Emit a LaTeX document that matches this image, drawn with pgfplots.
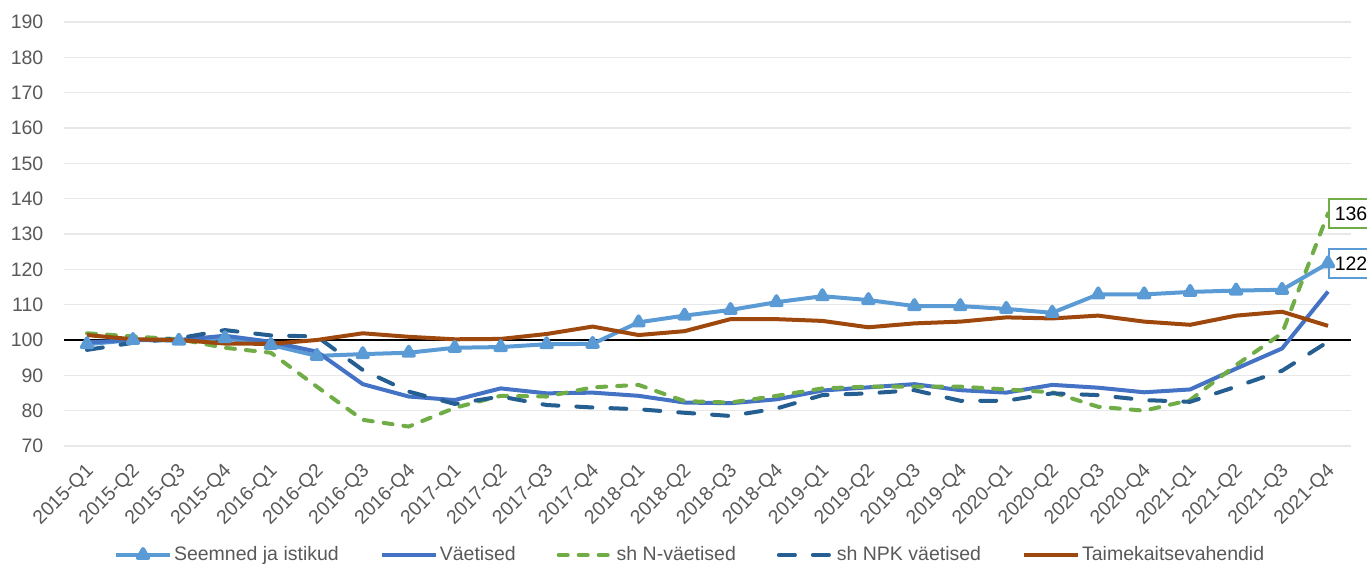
\documentclass[border=0pt]{standalone}
\usepackage{fontspec}
\setmainfont{Liberation Sans}
\usepackage{pgfplots}
\usepackage{pgfplotstable}
\pgfplotsset{compat=1.18}
\definecolor{cS}{HTML}{5B9BD5}
\definecolor{cV}{HTML}{4472C4}
\definecolor{cN}{HTML}{70AD47}
\definecolor{cNPK}{HTML}{255E91}
\definecolor{cT}{HTML}{9E480E}
\definecolor{gridgrey}{HTML}{E8E8E8}
\definecolor{textgrey}{HTML}{595959}

\pgfplotstableread{
i S V N NPK T
0 98.8 99.3 101.9 97.2 101.4
1 100 100 101 99.2 100.2
2 99.8 100 100.2 100.5 100
3 100.5 101.2 97.8 102.8 99
4 98.6 99.5 96.4 101.3 98.9
5 95.5 96.7 86.8 101 100
6 96 87.5 77.4 91.5 101.9
7 96.4 84 75.5 85.4 100.9
8 97.8 83 80.8 81.9 100.2
9 98 86.3 84.2 84 100.3
10 98.8 84.9 84 81.6 101.7
11 98.9 85.1 86.6 80.9 103.8
12 105 84.2 87.3 80.4 101.4
13 106.9 82.3 82.7 79.4 102.5
14 108.5 82.1 82.3 78.5 105.9
15 110.7 83.2 84.2 80.6 105.9
16 112.4 85.7 86.3 84.4 105.4
17 111.3 86.6 86.8 84.9 103.6
18 109.6 87.5 86.8 85.8 104.7
19 109.6 85.8 86.8 82.8 105.2
20 108.8 85.1 86 82.8 106.4
21 107.7 87.3 85.2 84.9 106.1
22 112.9 86.5 81.1 84.4 106.9
23 112.9 85.2 80 83 105.2
24 113.6 86 83 82.5 104.3
25 114 91.9 92.9 86.8 106.9
26 114.2 97.6 101.9 91.3 108
27 121.7 113.7 135.8 99.5 104
}\datatable

\begin{document}
\fontsize{19.5}{23}\selectfont
\begin{tikzpicture}
\begin{axis}[
  scale only axis, width=1287pt, height=424pt,
  xmin=-0.5, xmax=27.5, ymin=70, ymax=190,
  ytick={70,80,...,190},
  xtick={0,...,27},
  xticklabels={2015-Q1,2015-Q2,2015-Q3,2015-Q4,2016-Q1,2016-Q2,2016-Q3,2016-Q4,2017-Q1,2017-Q2,2017-Q3,2017-Q4,2018-Q1,2018-Q2,2018-Q3,2018-Q4,2019-Q1,2019-Q2,2019-Q3,2019-Q4,2020-Q1,2020-Q2,2020-Q3,2020-Q4,2021-Q1,2021-Q2,2021-Q3,2021-Q4},
  axis line style={draw=none},
  major tick length=0pt,
  ymajorgrids, grid style={color=gridgrey, line width=1.2pt},
  tick label style={font=\fontsize{19.5}{23}\selectfont, text=textgrey},
  xticklabel style={anchor=east, xshift=8.5pt, yshift=-17.5pt, rotate=45},
  yticklabel style={xshift=-14pt},
  /pgf/number format/assume math mode=true,
  clip=false,
  legend columns=5,
  legend style={at={(axis description cs:0.4865,0)}, anchor=center, yshift=-109pt,
    draw=none, font=\fontsize{19.5}{23}\selectfont, text=textgrey,
    /tikz/every even column/.append style={column sep=39pt}},
  legend cell align=left,
  legend image code/.code={\draw[mark repeat=2,mark phase=2,#1] plot coordinates {(0pt,0pt) (27pt,0pt) (54pt,0pt)};},
]
\addplot[black, line width=1.5pt, forget plot] coordinates {(-0.5,100) (27.5,100)};
\addplot[cS, line width=4pt, line join=round, mark=triangle*, mark size=6pt, mark options={solid}] table[x=i, y=S] {\datatable};
\addlegendentry{Seemned ja istikud}
\addplot[cV, line width=4pt, line join=round] table[x=i, y=V] {\datatable};
\addlegendentry{Väetised}
\addplot[cN, line width=4pt, line join=round, line cap=round, dash pattern=on 9pt off 11pt] table[x=i, y=N] {\datatable};
\addlegendentry{sh N-väetised}
\addplot[cNPK, line width=4pt, line join=round, line cap=round, dash pattern=on 16pt off 18pt] table[x=i, y=NPK] {\datatable};
\addlegendentry{sh NPK väetised}
\addplot[cT, line width=4pt, line join=round] table[x=i, y=T] {\datatable};
\addlegendentry{Taimekaitsevahendid}
\node[anchor=west, draw=cN, line width=1.5pt, fill=white, text=black, minimum height=29pt, inner xsep=6pt] at (axis cs:27,135.8) {136};
\node[anchor=west, draw=cS, line width=1.5pt, fill=white, text=black, minimum height=29pt, inner xsep=6pt] at (axis cs:27,121.7) {122};
\end{axis}
\pgfresetboundingbox
\path[use as bounding box] ([shift={(-64pt,-120pt)}]current axis.south west) rectangle ([shift={(16pt,22pt)}]current axis.north east);
\end{tikzpicture}
\end{document}
